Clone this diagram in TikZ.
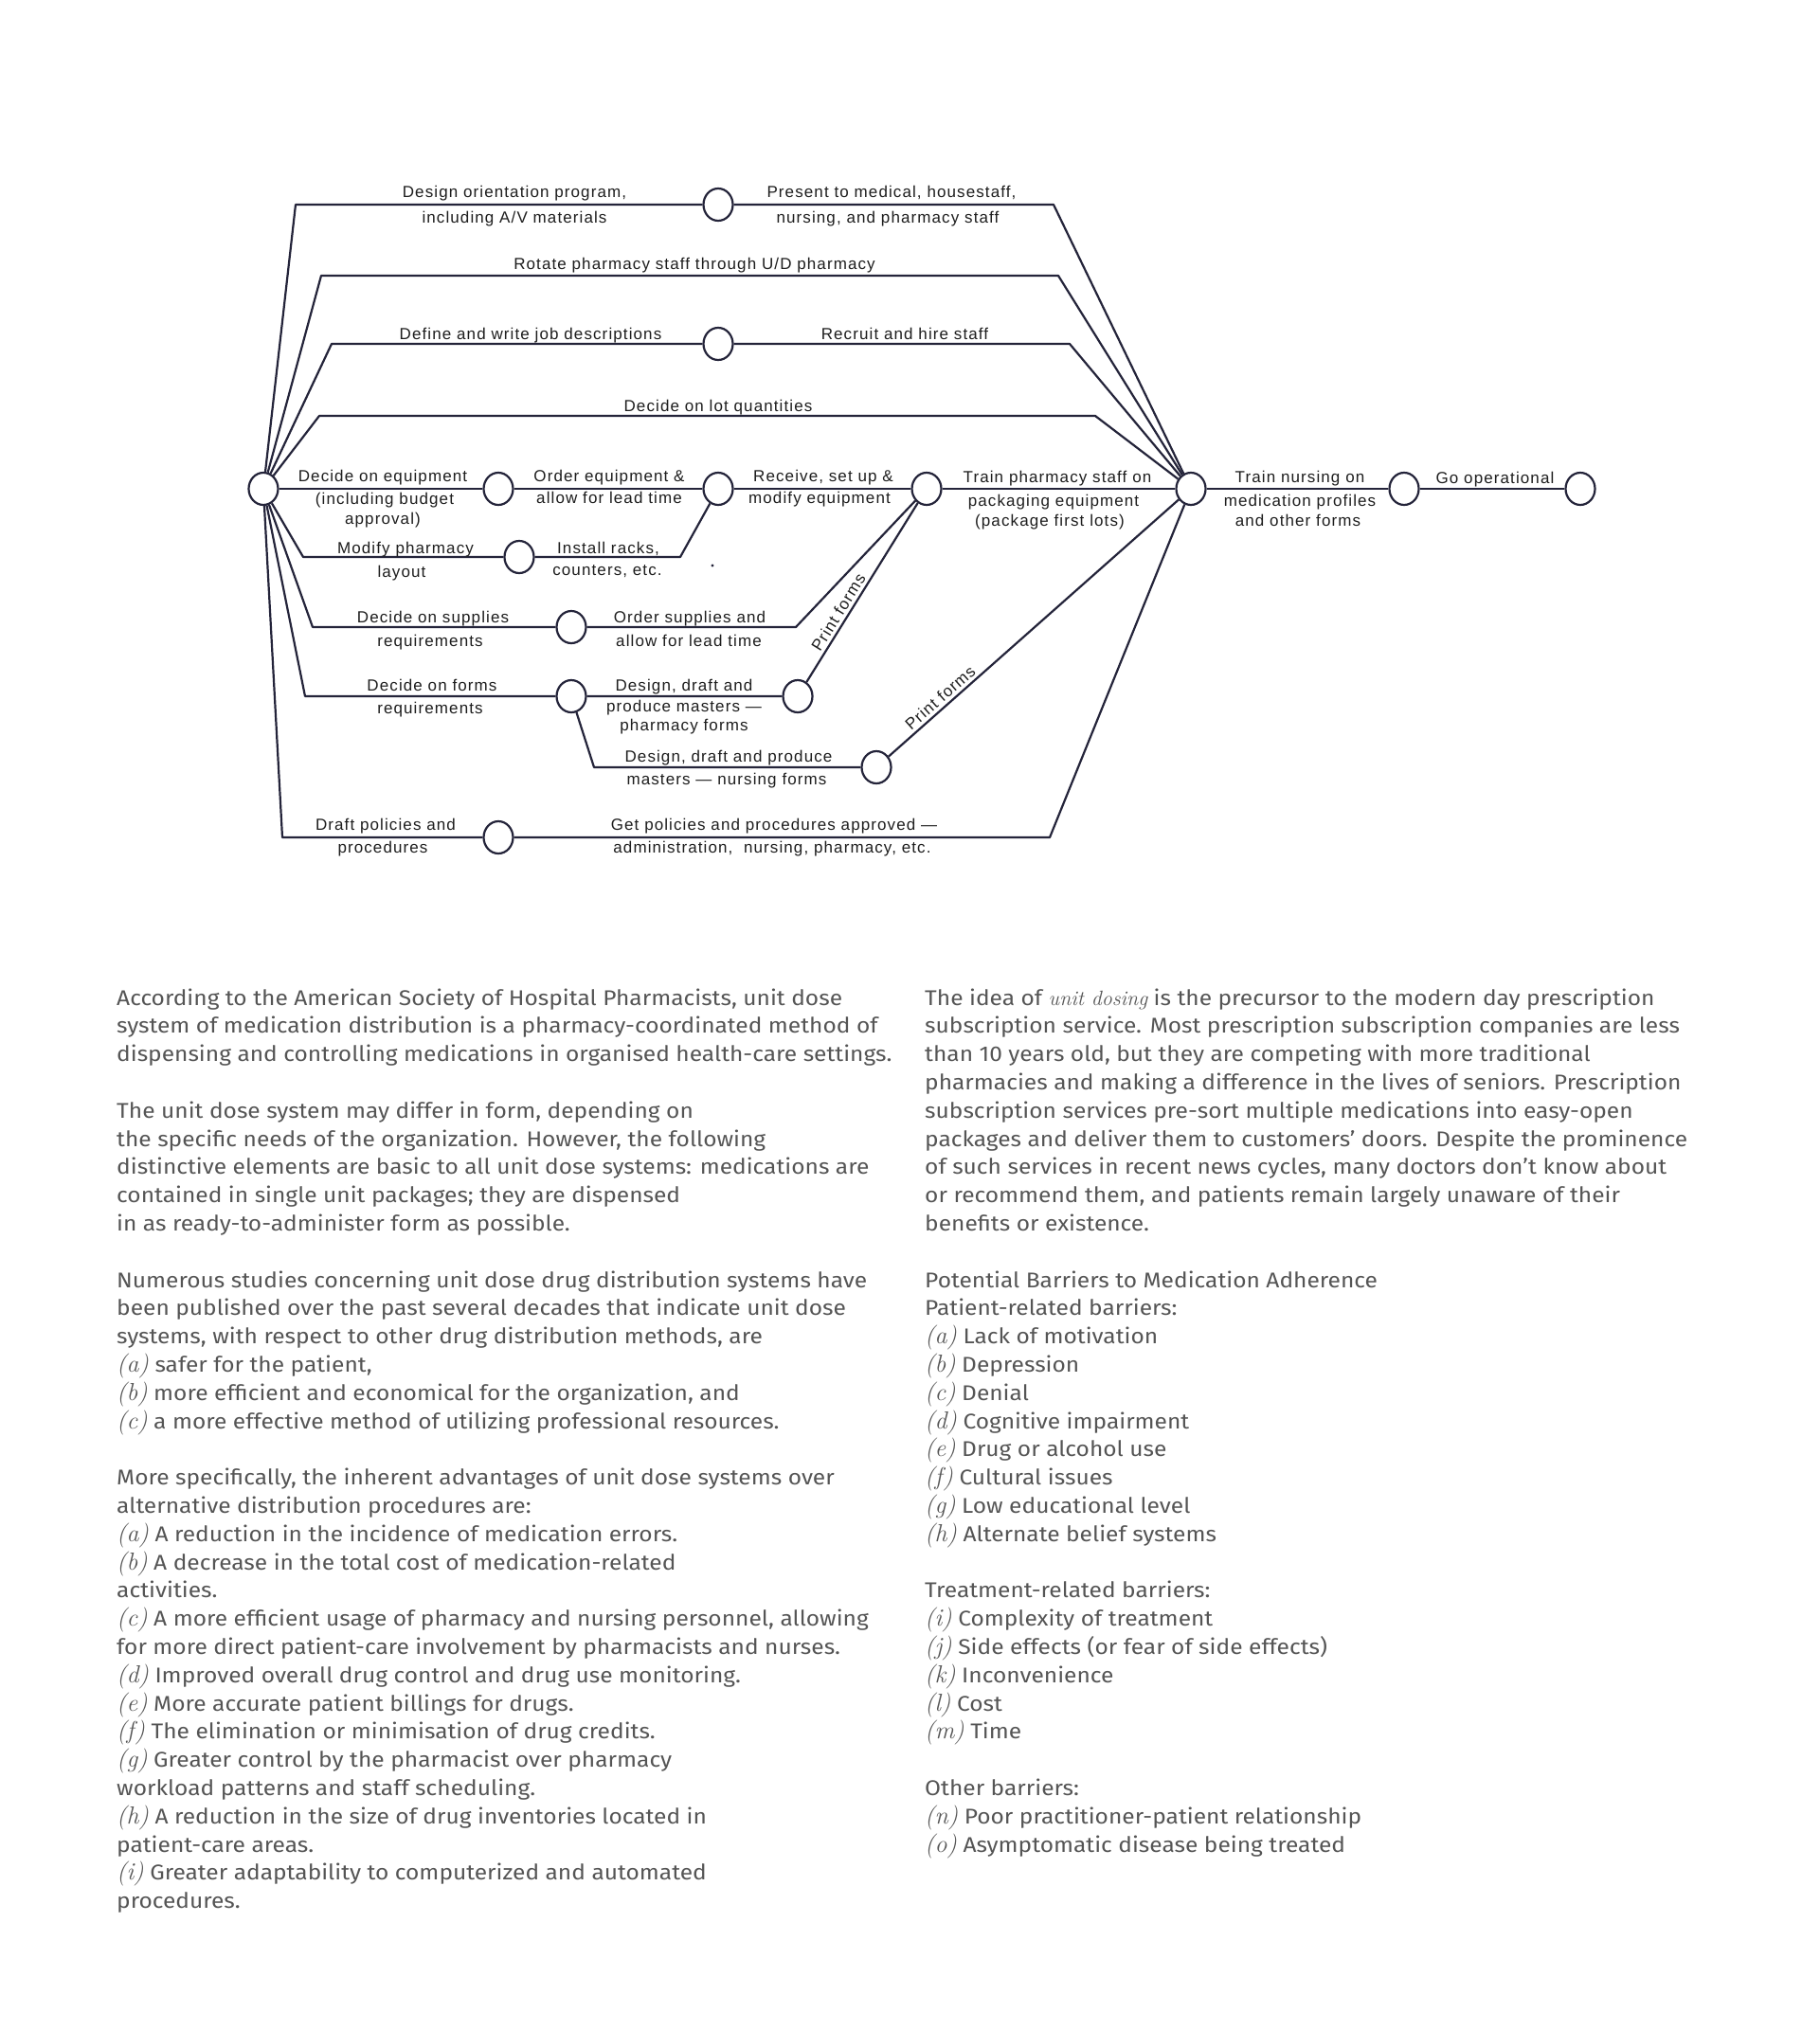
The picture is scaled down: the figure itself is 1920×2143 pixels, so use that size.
\documentclass[tikz,border=0pt]{standalone}
\usepackage{fontspec}
\usetikzlibrary{shapes.geometric}
\newfontfamily\diafont[LetterSpace=6.5]{Liberation Sans}
\newfontfamily\bodyfont[FakeStretch=1.09]{Fira Sans}
\definecolor{ink}{HTML}{24243A}
\definecolor{txt}{HTML}{1E1E1E}
\definecolor{bodyc}{HTML}{555555}
\newcommand\itl[1]{{\rmfamily\itshape\fontsize{26}{29.8}\selectfont #1}}
\newcommand\itw[1]{{\rmfamily\itshape\fontsize{22}{29.8}\selectfont #1}}
\tikzset{
  conn/.style={draw=ink, line width=2.2pt, line join=round},
  evt/.style={ellipse, draw=ink, line width=2.2pt, minimum width=31pt, minimum height=34pt, inner sep=0pt},
  lbl/.style={font=\diafont\fontsize{17}{20}\selectfont, text=txt, anchor=base, inner sep=0pt},
  sl/.style={font=\diafont\fontsize{17}{20}\selectfont, text=txt, sloped, above, inner sep=3pt},
  bodytext/.style={font=\bodyfont\fontsize{22.5}{29.8}\selectfont, text=bodyc, anchor=base west, inner sep=0pt},
}
\begin{document}
\begin{tikzpicture}[x=1pt,y=-1pt]
\useasboundingbox[fill=white] (0,0) rectangle (1920,2143);

% events
\node[evt] (S) at (278,516) {};
\node[evt] (A) at (526,516) {};
\node[evt] (B) at (758,516) {};
\node[evt] (C) at (978,516) {};
\node[evt] (M) at (1257,516) {};
\node[evt] (D) at (1482,516) {};
\node[evt] (Z) at (1668,516) {};
\node[evt] (R1) at (758,216) {};
\node[evt] (R3) at (758,363) {};
\node[evt] (MP) at (548,588) {};
\node[evt] (SP) at (603,662) {};
\node[evt] (FP) at (603,735) {};
\node[evt] (FE) at (842,735) {};
\node[evt] (NF) at (925,810) {};
\node[evt] (PP) at (526,884) {};

% corners
\coordinate (r1l) at (312,216); \coordinate (r1r) at (1112,216);
\coordinate (r2l) at (339,291); \coordinate (r2r) at (1117,291);
\coordinate (r3l) at (350,363); \coordinate (r3r) at (1129,363);
\coordinate (r4l) at (337,439); \coordinate (r4r) at (1156,439);
\coordinate (m1l) at (320,588); \coordinate (m1r) at (718,588);
\coordinate (s1l) at (330,662); \coordinate (s1r) at (840,662);
\coordinate (f1l) at (322,735);
\coordinate (n1l) at (627,810);
\coordinate (p1l) at (298,884); \coordinate (p1r) at (1108,884);

% connectors
\draw[conn] (S) -- (r1l) -- (R1) -- (r1r) -- (M);
\draw[conn] (S) -- (r2l) -- (r2r) -- (M);
\draw[conn] (S) -- (r3l) -- (R3) -- (r3r) -- (M);
\draw[conn] (S) -- (r4l) -- (r4r) -- (M);
\draw[conn] (S) -- (A) -- (B) -- (C) -- (M) -- (D) -- (Z);
\draw[conn] (S) -- (m1l) -- (MP) -- (m1r) -- (B);
\draw[conn] (S) -- (s1l) -- (SP) -- (s1r) -- (C);
\draw[conn] (S) -- (f1l) -- (FP) -- (FE);
\draw[conn] (FE) -- node[sl, pos=0.36] {Print forms} (C);
\draw[conn] (FP) -- (n1l) -- (NF);
\draw[conn] (NF) -- node[sl, pos=0.2] {Print forms} (M);
\draw[conn] (S) -- (p1l) -- (PP) -- (p1r) -- (M);
\fill[ink] (752,597) circle (1.6);

% labels
\node[lbl] (t1a) at (543,209) {Design orientation program,};
\node[lbl] (t1b) at (543,236) {including A/V materials};
\node[lbl] (t2a) at (941,209) {Present to medical, housestaff,};
\node[lbl] (t2b) at (937,236) {nursing, and pharmacy staff};
\node[lbl] (t3) at (733,284) {Rotate pharmacy staff through U/D pharmacy};
\node[lbl] (t4) at (560,358) {Define and write job descriptions};
\node[lbl] (t5) at (955,358) {Recruit and hire staff};
\node[lbl] (t6) at (758,434) {Decide on lot quantities};
\node[lbl] (t7a) at (404,508) {Decide on equipment};
\node[lbl] (t7b) at (406,532) {(including budget};
\node[lbl] (t7c) at (404,553) {approval)};
\node[lbl] (t8a) at (643,508) {Order equipment \&};
\node[lbl] (t8b) at (643,531) {allow for lead time};
\node[lbl] (t9a) at (869,508) {Receive, set up \&};
\node[lbl] (t9b) at (865,531) {modify equipment};
\node[lbl] (t10a) at (1116,509) {Train pharmacy staff on};
\node[lbl] (t10b) at (1112,534) {packaging equipment};
\node[lbl] (t10c) at (1108,555) {(package first lots)};
\node[lbl] (t11a) at (1372,509) {Train nursing on};
\node[lbl] (t11b) at (1372,534) {medication profiles};
\node[lbl] (t11c) at (1370,555) {and other forms};
\node[lbl] (t12) at (1578,510) {Go operational};
\node[lbl] (t13a) at (428,584) {Modify pharmacy};
\node[lbl] (t13b) at (424,609) {layout};
\node[lbl] (t14a) at (642,584) {Install racks,};
\node[lbl] (t14b) at (641,607) {counters, etc.};
\node[lbl] (t15a) at (457,657) {Decide on supplies};
\node[lbl] (t15b) at (454,682) {requirements};
\node[lbl] (t16a) at (728,657) {Order supplies and};
\node[lbl] (t16b) at (727,682) {allow for lead time};
\node[lbl] (t17a) at (456,729) {Decide on forms};
\node[lbl] (t17b) at (454,753) {requirements};
\node[lbl] (t18a) at (722,729) {Design, draft and};
\node[lbl] (t18b) at (722,751) {produce masters —};
\node[lbl] (t18c) at (722,771) {pharmacy forms};
\node[lbl] (t19a) at (769,804) {Design, draft and produce};
\node[lbl] (t19b) at (767,828) {masters — nursing forms};
\node[lbl] (t20a) at (407,876) {Draft policies and};
\node[lbl] (t20b) at (404,900) {procedures};
\node[lbl] (t21a) at (817,876) {Get policies and procedures approved —};
\node[lbl] (t21b) at (815,900) {administration,\ \ nursing, pharmacy, etc.};

% body text, left column
\foreach \t [count=\k from 0] in {
 {According to the American Society of Hospital Pharmacists, unit dose},
 {system of medication distribution is a pharmacy-coordinated method of},
 {dispensing and controlling medications in organised health-care settings.},
 {},
 {The unit dose system may differ in form, depending on},
 {the specific needs of the organization. However, the following},
 {distinctive elements are basic to all unit dose systems: medications are},
 {contained in single unit packages; they are dispensed},
 {in as ready-to-administer form as possible.},
 {},
 {Numerous studies concerning unit dose drug distribution systems have},
 {been published over the past several decades that indicate unit dose},
 {systems, with respect to other drug distribution methods, are},
 {\itl{(a)} safer for the patient,},
 {\itl{(b)} more efficient and economical for the organization, and},
 {\itl{(c)} a more effective method of utilizing professional resources.},
 {},
 {More specifically, the inherent advantages of unit dose systems over},
 {alternative distribution procedures are:},
 {\itl{(a)} A reduction in the incidence of medication errors.},
 {\itl{(b)} A decrease in the total cost of medication-related},
 {activities.},
 {\itl{(c)} A more efficient usage of pharmacy and nursing personnel, allowing},
 {for more direct patient-care involvement by pharmacists and nurses.},
 {\itl{(d)} Improved overall drug control and drug use monitoring.},
 {\itl{(e)} More accurate patient billings for drugs.},
 {\itl{(f)} The elimination or minimisation of drug credits.},
 {\itl{(g)} Greater control by the pharmacist over pharmacy},
 {workload patterns and staff scheduling.},
 {\itl{(h)} A reduction in the size of drug inventories located in},
 {patient-care areas.},
 {\itl{(i)} Greater adaptability to computerized and automated},
 {procedures.}
}{\node[bodytext] (L\k) at (123,{1061+\k*29.8}) {\t};}

% body text, right column
\foreach \t [count=\k from 0] in {
 {The idea of \itw{unit dosing} is the precursor to the modern day prescription},
 {subscription service. Most prescription subscription companies are less},
 {than 10 years old, but they are competing with more traditional},
 {pharmacies and making a difference in the lives of seniors. Prescription},
 {subscription services pre-sort multiple medications into easy-open},
 {packages and deliver them to customers’ doors. Despite the prominence},
 {of such services in recent news cycles, many doctors don’t know about},
 {or recommend them, and patients remain largely unaware of their},
 {benefits or existence.},
 {},
 {Potential Barriers to Medication Adherence},
 {Patient-related barriers:},
 {\itl{(a)} Lack of motivation},
 {\itl{(b)} Depression},
 {\itl{(c)} Denial},
 {\itl{(d)} Cognitive impairment},
 {\itl{(e)} Drug or alcohol use},
 {\itl{(f)} Cultural issues},
 {\itl{(g)} Low educational level},
 {\itl{(h)} Alternate belief systems},
 {},
 {Treatment-related barriers:},
 {\itl{(i)} Complexity of treatment},
 {\itl{(j)} Side effects (or fear of side effects)},
 {\itl{(k)} Inconvenience},
 {\itl{(l)} Cost},
 {\itl{(m)} Time},
 {},
 {Other barriers:},
 {\itl{(n)} Poor practitioner-patient relationship},
 {\itl{(o)} Asymptomatic disease being treated}
}{\node[bodytext] (R\k) at (976,{1061+\k*29.8}) {\t};}
\end{tikzpicture}
\end{document}
